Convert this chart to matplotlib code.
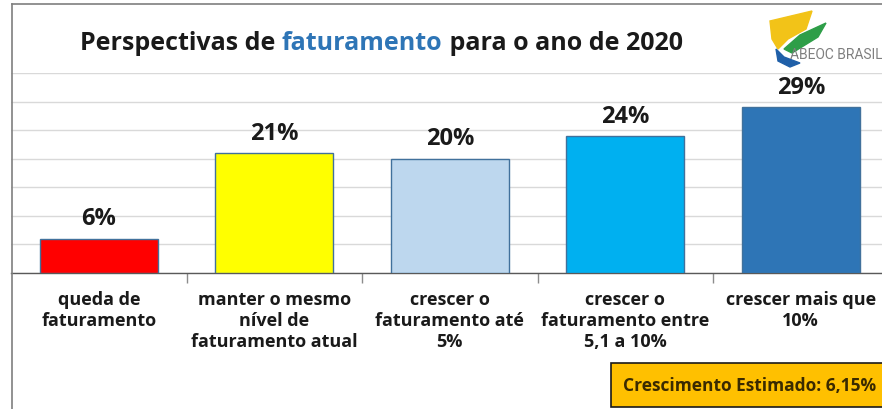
import numpy as np
import matplotlib
matplotlib.use("Agg")
import matplotlib.pyplot as plt
from matplotlib.patches import Rectangle, Polygon
from matplotlib.lines import Line2D

categories = ["queda de\nfaturamento",
              "manter o mesmo\nnível de\nfaturamento atual",
              "crescer o\nfaturamento até\n5%",
              "crescer o\nfaturamento entre\n5,1 a 10%",
              "crescer mais que\n10%"]
values = [6, 21, 20, 24, 29]
value_labels = ["6%", "21%", "20%", "24%", "29%"]
bar_colors = ["#FF0000", "#FFFF00", "#BDD7EE", "#00B0F0", "#2E75B6"]
estimate_text = "Crescimento Estimado: 6,15%"

plt.rcParams['font.family'] = ['Open Sans', 'DejaVu Sans']

fig = plt.figure(figsize=(8.82, 4.10), dpi=100)
W, H = 882.0, 410.0

# axes: left ~11px, right ~888px, baseline y=274, top (35%) y=74
ax = fig.add_axes([11 / W, 136 / H, 877.5 / W, 200 / H])
x = np.arange(len(values))
ax.bar(x, values, width=0.67, color=bar_colors, edgecolor="#41719C",
       linewidth=1.0, zorder=3)
ax.set_xlim(-0.5, len(values) - 0.5)
ax.set_ylim(0, 35)
ax.set_yticks(np.arange(0, 36, 5))
ax.yaxis.grid(True, color="#D9D9D9", linewidth=1.0, zorder=0)
ax.tick_params(axis='y', left=False, labelleft=False)
for side in ("top", "right", "left"):
    ax.spines[side].set_visible(False)
ax.spines["bottom"].set_color("#595959")
ax.spines["bottom"].set_linewidth(1.0)

ax.set_xticks(x)
ax.set_xticklabels(categories, fontsize=13, fontweight="bold",
                   color="#1a1a1a", linespacing=1.22)
ax.tick_params(axis='x', which='major', length=0, pad=12)
ax.set_xticks(np.arange(0.5, len(values) - 1), minor=True)
ax.tick_params(axis='x', which='minor', length=7, color="#8C8C8C", width=1.0)

for xi, v, lab in zip(x, values, value_labels):
    ax.annotate(lab, (xi, v), xytext=(0, 6), textcoords="offset points",
                ha="center", va="bottom", fontsize=17, fontweight="bold",
                color="#1a1a1a")

# outer frame
fig.add_artist(Line2D([12 / W, 1.0], [1 - 5 / H, 1 - 5 / H],
                      color="#7F7F7F", lw=1.2, transform=fig.transFigure))
fig.add_artist(Line2D([12 / W, 12 / W], [0, 1 - 5 / H],
                      color="#7F7F7F", lw=1.2, transform=fig.transFigure))

# multi-coloured title
pieces = [("Perspectivas de ", "#1a1a1a"), ("faturamento", "#2E75B6"),
          (" para o ano de 2020", "#1a1a1a")]
fig.canvas.draw()
renderer = fig.canvas.get_renderer()
xpos = 80 / W
ty = 1 - 43 / H
for txt, col in pieces:
    t = fig.text(xpos, ty, txt, fontsize=18, fontweight="bold", color=col,
                 va="center", ha="left")
    bb = t.get_window_extent(renderer=renderer)
    xpos += bb.width / W

# logo (approximate)
fig.add_artist(Polygon([[770 / W, 1 - 22 / H], [812 / W, 1 - 12 / H],
                        [806 / W, 1 - 30 / H], [788 / W, 1 - 40 / H],
                        [778 / W, 1 - 50 / H], [772 / W, 1 - 40 / H]],
                       closed=True, color="#F2C318",
                       transform=fig.transFigure))
fig.add_artist(Polygon([[784 / W, 1 - 50 / H], [800 / W, 1 - 36 / H],
                        [826 / W, 1 - 24 / H], [818 / W, 1 - 38 / H],
                        [792 / W, 1 - 54 / H]], closed=True,
                       color="#2E9E48", transform=fig.transFigure))
fig.add_artist(Polygon([[776 / W, 1 - 50 / H], [784 / W, 1 - 58 / H],
                        [800 / W, 1 - 64 / H], [790 / W, 1 - 68 / H],
                        [778 / W, 1 - 62 / H]], closed=True,
                       color="#1F5FA8", transform=fig.transFigure))
fig.text(790 / W, 1 - 55 / H, "ABEOC BRASIL", fontsize=10, color="#7F7F7F",
         va="center", ha="left", family=["Roboto", "DejaVu Sans"])

# estimate box
fig.add_artist(Rectangle((611 / W, 2 / H), 290 / W, 44 / H,
                         facecolor="#FFC000", edgecolor="#1a1a1a", lw=1.2,
                         transform=fig.transFigure))
fig.text(623 / W, 24 / H, estimate_text, fontsize=12.5, fontweight="bold",
         color="#3A2A00", va="center", ha="left")

fig.savefig("out.png", dpi=100)
